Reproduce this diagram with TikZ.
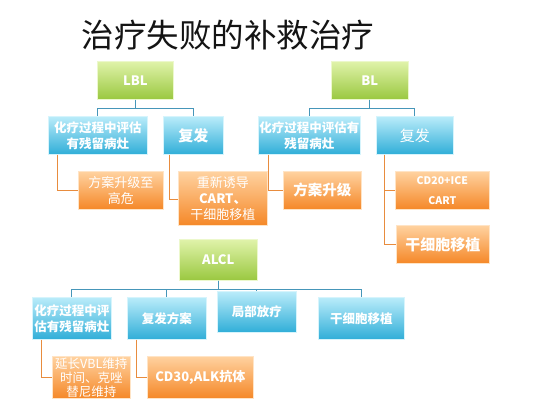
\documentclass[tikz,border=0pt]{standalone}
\usepackage{fontspec}
\setmainfont{Noto Sans CJK SC}
\setsansfont{Noto Sans CJK SC}
\usetikzlibrary{
    positioning,
    shadows
}
\definecolor{ink}{RGB}{20,20,20}
\definecolor{leaftop}{RGB}{224,243,170}
\definecolor{leafbot}{RGB}{154,200,64}
\definecolor{skytop}{RGB}{186,236,250}
\definecolor{skybot}{RGB}{48,174,216}
\definecolor{peeltop}{RGB}{255,210,160}
\definecolor{peelbot}{RGB}{245,136,40}
\definecolor{trunkline}{RGB}{70,150,185}
\definecolor{twigline}{RGB}{232,140,62}
\tikzset{
    line cap=round,
    line join=round,
    box/.style={
        rectangle,
        anchor=north west,
        inner sep=1pt,
        align=center,
        text=white,
        line width=0.6pt,
        drop shadow={shadow xshift=1pt, shadow yshift=-1pt, opacity=0.25}
    },
    rootbox/.style={
        box,
        top color=leaftop,
        bottom color=leafbot,
        draw=leaftop!60!white,
        font=\bfseries\fontsize{13}{15}\selectfont
    },
    catbox/.style={
        box,
        top color=skytop,
        bottom color=skybot,
        draw=skytop!60!white,
        font=\bfseries\fontsize{12.5}{16}\selectfont
    },
    planbox/.style={
        box,
        top color=peeltop,
        bottom color=peelbot,
        draw=peeltop!60!white,
        font=\fontsize{13}{16}\selectfont
    },
    trunk/.style={
        draw=trunkline,
        line width=1pt
    },
    twig/.style={
        draw=twigline,
        line width=1pt
    }
}

\begin{document}
\begin{tikzpicture}[x=1pt, y=-1pt]

\useasboundingbox[fill=white] (0,0) rectangle (554,415);

% --- Title ---
\node[anchor=west, text=ink, font=\fontsize{32.5}{38}\selectfont] (title) at (78,35)
    {治疗失败的补救治疗};

% --- LBL ---
\node[rootbox, minimum width=76pt, minimum height=38pt] (lbl) at (97,61) {LBL};
\node[catbox, minimum width=99pt, minimum height=38pt] (lblres) at (48,116)
    {化疗过程中评估\\有残留病灶};
\node[catbox, minimum width=60pt, minimum height=38pt,
    font=\bfseries\fontsize{15}{18}\selectfont] (lblrel) at (163,116) {复发};
\node[planbox, minimum width=85pt, minimum height=38pt] (lblup) at (78,171)
    {方案升级至\\高危};
\node[planbox, minimum width=89pt, minimum height=54pt] (lblre) at (178,171)
    {重新诱导\\{\bfseries CART、}\\干细胞移植};

\draw[trunk] (lbl.south) -- ++(0,9) -| (lblres.north);
\draw[trunk] (lbl.south) -- ++(0,9) -| (lblrel.north);
\draw[twig] ([xshift=9pt]lblres.south west) |- (lblup.west);
\draw[twig] ([xshift=6pt]lblrel.south west) |- ([yshift=-1pt]lblre.west);

% --- BL ---
\node[rootbox, minimum width=77pt, minimum height=38pt] (bl) at (331,61) {BL};
\node[catbox, minimum width=102pt, minimum height=38pt] (blres) at (258,116)
    {化疗过程中评估有\\残留病灶};
\node[catbox, minimum width=77pt, minimum height=38pt,
    font=\fontsize{15}{18}\selectfont] (blrel) at (376,116) {复发};
\node[planbox, minimum width=78pt, minimum height=38pt,
    font=\bfseries\fontsize{14.5}{18}\selectfont] (blup) at (283,171) {方案升级};
\node[planbox, minimum width=94pt, minimum height=38pt,
    font=\bfseries\fontsize{10.5}{20}\selectfont] (blcd) at (395,171) {CD20+ICE\\CART};
\node[planbox, minimum width=93pt, minimum height=38pt,
    font=\bfseries\fontsize{15}{18}\selectfont] (blsct) at (396,225) {干细胞移植};

\draw[trunk] (bl.south) -- ++(0,9) -| (blres.north);
\draw[trunk] (bl.south) -- ++(0,9) -| (blrel.north);
\draw[twig] ([xshift=10pt]blres.south west) |- (blup.west);
\draw[twig] ([xshift=8pt]blrel.south west) |- (blcd.west);
\draw[twig] ([xshift=8pt]blrel.south west) |- (blsct.west);

% --- ALCL ---
\node[rootbox, minimum width=78pt, minimum height=41pt] (alcl) at (179,239) {ALCL};
\node[catbox, minimum width=79pt, minimum height=42pt] (alres) at (32,297)
    {化疗过程中评\\估有残留病灶};
\node[catbox, minimum width=79pt, minimum height=42pt] (alrel) at (127,297) {复发方案};
\node[catbox, minimum width=79pt, minimum height=41pt] (alrt) at (217,291) {局部放疗};
\node[catbox, minimum width=86pt, minimum height=42pt] (alsct) at (318,297) {干细胞移植};
\node[planbox, minimum width=78pt, minimum height=42pt,
    font=\fontsize{12.5}{14}\selectfont] (alvbl) at (52,356)
    {延长VBL维持\\时间、克唑\\替尼维持};
\node[planbox, minimum width=106pt, minimum height=42pt,
    font=\bfseries\fontsize{13}{16}\selectfont] (alcd) at (147,356) {CD30,ALK抗体};

\draw[trunk] (alcl.south) -- ++(0,9) -| (alres.north);
\draw[trunk] (alcl.south) -- ++(0,9) -| (alrel.north);
\draw[trunk] (alcl.south) -- ++(0,9) -| (alrt.north);
\draw[trunk] (alcl.south) -- ++(0,9) -| (alsct.north);
\draw[twig] ([xshift=9pt]alres.south west) |- (alvbl.west);
\draw[twig] ([xshift=9pt]alrel.south west) |- (alcd.west);

\end{tikzpicture}
\end{document}
